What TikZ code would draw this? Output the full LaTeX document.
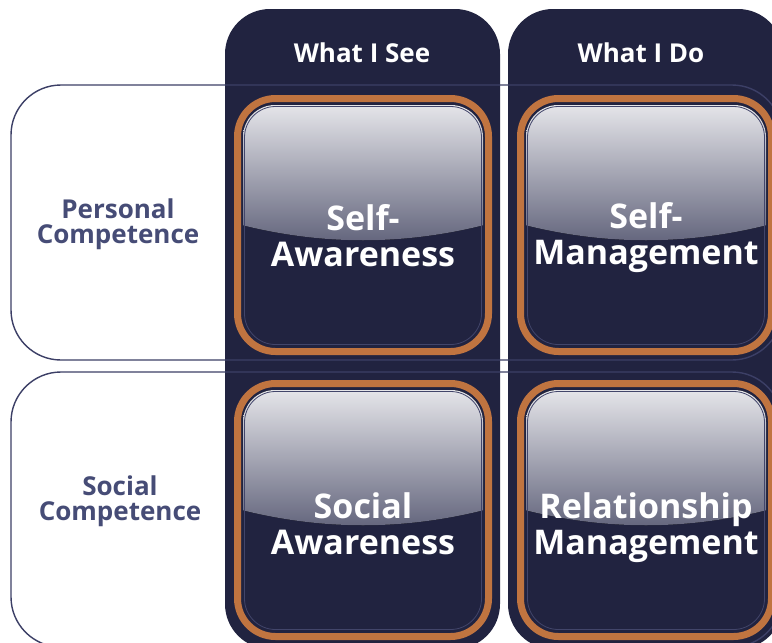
\documentclass[tikz,border=0pt]{standalone}
\usepackage{fontspec}
\setmainfont{Open Sans}
\definecolor{navy}{RGB}{33,35,64}
\definecolor{copper}{RGB}{192,116,64}
\definecolor{slate}{RGB}{70,76,118}
\definecolor{rim}{RGB}{60,63,102}
\definecolor{glosstop}{RGB}{238,238,241}
\definecolor{glossmid}{RGB}{190,191,200}
\definecolor{glossbot}{RGB}{96,98,122}
\definecolor{edge}{RGB}{66,69,106}
\begin{document}
\begin{tikzpicture}[x=1pt, y=-1pt,
    head/.style={text=white, font=\bfseries\fontsize{26}{26}\selectfont, anchor=base},
    rowlabel/.style={text=slate, font=\bfseries\fontsize{26}{25}\selectfont, align=center},
    tilelabel/.style={text=white, font=\bfseries\fontsize{34}{36}\selectfont, align=center}]
  \useasboundingbox (0,0) rectangle (772,643);
  \clip (0,0) rectangle (772,643);
  \fill[white] (0,0) rectangle (772,643);
  \foreach \x in {225,508}{
    \fill[navy, rounded corners=45] (\x,9) rectangle ++(275,640);
  }
  \foreach \y in {85,372}{
    \draw[rim, line width=1.4, rounded corners=50] (11,\y) rectangle ++(771,275);
  }
  \foreach \x/\y/\ty/\name/\txt in {234/95/141/sa/{Self-\\Awareness}, 517/95/143/sm/{Self-\\Management},
      234/380/144/soa/{Social\\Awareness}, 517/380/148/rm/{Relationship\\Management}}{
    \draw[copper, line width=7, rounded corners=38] (\x+3.5,\y+3.5) rectangle ++(251,253);
    \begin{scope}
      \clip[rounded corners=32] (\x+9,\y+10) rectangle ++(240,241);
      \fill[top color=glosstop, middle color=glossmid, bottom color=glossbot]
        (\x,\y) -- (\x,\y+128) .. controls (\x+86,\y+151) and (\x+172,\y+151) .. (\x+258,\y+128)
        -- (\x+258,\y) -- cycle;
    \end{scope}
    \draw[edge, line width=.8, rounded corners=31] (\x+10.5,\y+11.5) rectangle ++(237,238);
    \node[tilelabel] (\name) at (\x+129,\y+\ty) {\txt};
  }
  \node[head] (see) at (362,62) {What I See};
  \node[head] (do) at (641,62) {What I Do};
  \node[rowlabel] (personal) at (118,224) {Personal\\Competence};
  \node[rowlabel] (social) at (120,501) {Social\\Competence};
\end{tikzpicture}
\end{document}
